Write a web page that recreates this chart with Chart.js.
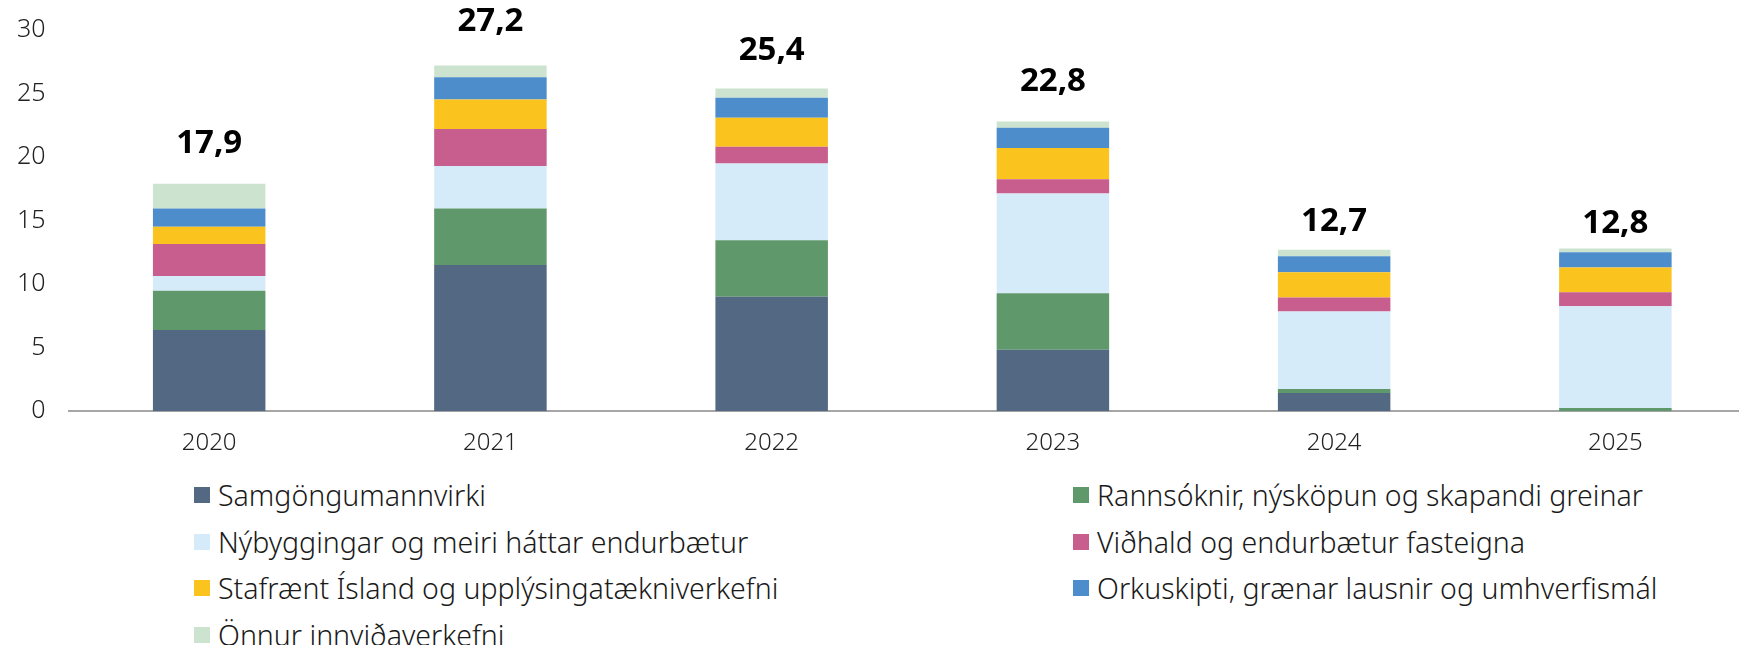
<!DOCTYPE html>
<html lang="is">
<head>
<meta charset="utf-8">
<script src="https://cdn.jsdelivr.net/npm/chart.js@4"></script>
<style>
  html, body { margin: 0; padding: 0; background: #fff; overflow: hidden; }
  body { width: 1739px; height: 645px; position: relative; font-family: "Noto Sans", sans-serif; }
  #wrap { position: absolute; left: -1px; top: 0; width: 1757px; height: 468px; }
  #legend { position: absolute; left: 0; top: 477px; width: 1739px; }
  .item { position: absolute; display: flex; align-items: center; font-size: 28.5px; font-weight: 300; color: #1a1a1a; white-space: nowrap; line-height: 36px; }
  .box { width: 16px; height: 16px; margin-right: 8px; }
</style>
</head>
<body>
<div id="wrap"><canvas id="chart"></canvas></div>
<div id="legend"></div>
<script>
'use strict'

// ár
const years = ['2020', '2021', '2022', '2023', '2024', '2025'];

// flokkar (ma.kr.)
const samgongur = [6.4, 11.5, 9.0, 4.84, 1.44, 0];
const rannsoknir = [3.07, 4.45, 4.45, 4.45, 0.31, 0.26];
const nybyggingar = [1.17, 3.35, 6.04, 7.84, 6.1, 8.0];
const vidhald = [2.52, 2.9, 1.33, 1.13, 1.1, 1.1];
const stafraent = [1.36, 2.33, 2.28, 2.46, 1.98, 1.94];
const orkuskipti = [1.44, 1.75, 1.57, 1.59, 1.26, 1.2];
const onnur = [1.94, 0.92, 0.73, 0.49, 0.51, 0.3];

const yTicks = [0, 5, 10, 15, 20, 25, 30];

const seriesNames = [
  'Samgöngumannvirki',
  'Rannsóknir, nýsköpun og skapandi greinar',
  'Nýbyggingar og meiri háttar endurbætur',
  'Viðhald og endurbætur fasteigna',
  'Stafrænt Ísland og upplýsingatækniverkefni',
  'Orkuskipti, grænar lausnir og umhverfismál',
  'Önnur innviðaverkefni'
];
const seriesData = [samgongur, rannsoknir, nybyggingar, vidhald, stafraent, orkuskipti, onnur];
const seriesColors = ['#536882', '#5f986b', '#d6ebfa', '#c75e8e', '#fbc31d', '#4e8dcb', '#cce4cf'];

// bil frá súlutoppi að miðju samtölu (px), handstillt eins og í frumriti
const labelGap = [40, 44, 38, 40, 28, 25];

// samtölur ofan á súlum
const totalsPlugin = {
  id: 'totals',
  afterDatasetsDraw(chart) {
    const ctx = chart.ctx;
    const lastMeta = chart.getDatasetMeta(chart.data.datasets.length - 1);
    ctx.save();
    ctx.font = 'bold 33px "Noto Sans"';
    ctx.fillStyle = '#000';
    ctx.textAlign = 'center';
    ctx.textBaseline = 'middle';
    years.forEach((y, i) => {
      let sum = 0;
      seriesData.forEach(s => { sum += s[i]; });
      const x = lastMeta.data[i].x;
      const top = chart.scales.y.getPixelForValue(sum);
      ctx.fillText(sum.toFixed(1).replace('.', ','), x, top - labelGap[i]);
    });
    ctx.restore();
  }
};

const ctx = document.getElementById('chart').getContext('2d');
const chart = new Chart(ctx, {
  type: 'bar',
  data: {
    labels: years,
    datasets: seriesNames.map((name, i) => ({
      label: name,
      data: seriesData[i],
      backgroundColor: seriesColors[i],
      borderWidth: 0,
      barPercentage: 0.4,
      categoryPercentage: 1.0
    }))
  },
  options: {
    responsive: true,
    maintainAspectRatio: false,
    animation: false,
    layout: { padding: { left: 3, top: 13, right: 0, bottom: 0 } },
    plugins: {
      legend: { display: false },
      tooltip: { enabled: false }
    },
    scales: {
      x: {
        stacked: true,
        grid: { display: false },
        border: { display: true, color: '#a6a6a6', width: 2 },
        ticks: { color: '#222', padding: 10, font: { family: 'Noto Sans', size: 24, weight: 300 } }
      },
      y: {
        stacked: true,
        min: 0,
        max: 30,
        afterBuildTicks: (axis) => { axis.ticks = yTicks.map(v => ({ value: v })); },
        grid: { display: false },
        border: { display: false },
        ticks: { color: '#222', padding: 15, font: { family: 'Noto Sans', size: 25, weight: 300 } }
      }
    }
  },
  plugins: [totalsPlugin]
});

// skýringar í tveimur dálkum
const legend = document.getElementById('legend');
const colX = [194, 1073];
chart.data.datasets.forEach((ds, i) => {
  const item = document.createElement('div');
  item.className = 'item';
  item.style.left = colX[i % 2] + 'px';
  item.style.top = (Math.floor(i / 2) * 46.5) + 'px';
  const box = document.createElement('span');
  box.className = 'box';
  box.style.background = ds.backgroundColor;
  const txt = document.createElement('span');
  txt.textContent = ds.label;
  item.appendChild(box);
  item.appendChild(txt);
  legend.appendChild(item);
});
</script>
</body>
</html>
